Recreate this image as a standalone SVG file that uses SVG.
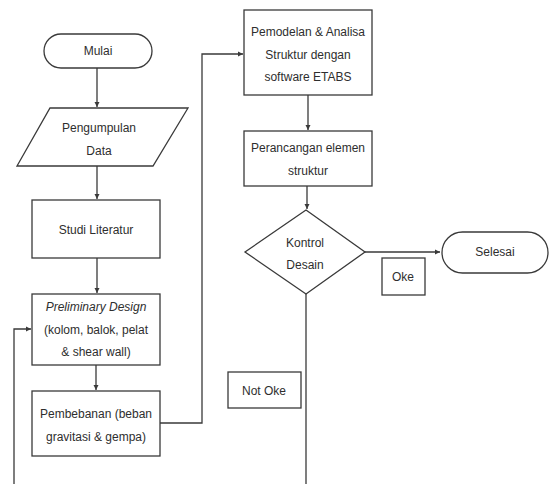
<svg xmlns="http://www.w3.org/2000/svg" width="550" height="484" viewBox="0 0 550 484">
<style>
.s{fill:#fff;stroke:#3a3a3a;stroke-width:1.3}
.c{fill:none;stroke:#3a3a3a;stroke-width:1.3}
text{font-family:"Liberation Sans",Arial,sans-serif;font-size:12px;fill:#2e2e2e;text-anchor:middle}
</style>
<defs>
<marker id="a" markerWidth="6" markerHeight="6" refX="5" refY="3" orient="auto" markerUnits="userSpaceOnUse">
<path d="M0,0.5 L5,3 L0,5.5 Z" fill="#3a3a3a"/>
</marker>
</defs>
<rect width="550" height="484" fill="#fff"/>
<g id="connectors">
<line class="c" x1="97" y1="68" x2="97" y2="107" marker-end="url(#a)"/>
<line class="c" x1="97" y1="166" x2="97" y2="199" marker-end="url(#a)"/>
<line class="c" x1="97" y1="258" x2="97" y2="293" marker-end="url(#a)"/>
<line class="c" x1="96" y1="352" x2="96" y2="390" marker-end="url(#a)"/>
<polyline class="c" points="160,423 202,423 202,54 243,54" marker-end="url(#a)"/>
<line class="c" x1="308" y1="95" x2="308" y2="130" marker-end="url(#a)"/>
<line class="c" x1="307" y1="176" x2="307" y2="209" marker-end="url(#a)"/>
<line class="c" x1="365" y1="252" x2="440" y2="252" marker-end="url(#a)"/>
<line class="c" x1="306" y1="294" x2="306" y2="484"/>
<polyline class="c" points="14,484 14,329 31,329" marker-end="url(#a)"/>
</g>
<g id="mulai">
<rect class="s" x="44" y="34" width="108" height="34" rx="17"/>
<text x="98" y="55">Mulai</text>
</g>
<g id="pengumpulan">
<polygon class="s" points="50,108 188,108 153,166 17,166"/>
<text x="99" y="132">Pengumpulan</text>
<text x="99" y="155">Data</text>
</g>
<g id="studi">
<rect class="s" x="32" y="200" width="128" height="58"/>
<text x="96" y="234">Studi Literatur</text>
</g>
<g id="preliminary">
<rect class="s" x="32" y="294" width="128" height="71"/>
<text x="96" y="311" font-style="italic">Preliminary Design</text>
<text x="96" y="334">(kolom, balok, pelat</text>
<text x="96" y="356">&amp; shear wall)</text>
</g>
<g id="pembebanan">
<rect class="s" x="32" y="391" width="128" height="65"/>
<text x="96" y="418">Pembebanan (beban</text>
<text x="96" y="441">gravitasi &amp; gempa)</text>
</g>
<g id="etabs">
<rect class="s" x="244" y="10" width="128" height="85"/>
<text x="308" y="36">Pemodelan &amp; Analisa</text>
<text x="308" y="59">Struktur dengan</text>
<text x="308" y="81">software ETABS</text>
</g>
<g id="perancangan">
<rect class="s" x="244" y="131" width="128" height="55"/>
<text x="308" y="152">Perancangan elemen</text>
<text x="308" y="175">struktur</text>
</g>
<g id="kontrol">
<polygon class="s" points="306,210 365,252 306,294 245,252"/>
<text x="305" y="247">Kontrol</text>
<text x="305" y="269">Desain</text>
</g>
<g id="selesai">
<rect class="s" x="442" y="232" width="106" height="41" rx="20.5"/>
<text x="495" y="256">Selesai</text>
</g>
<g id="oke">
<rect class="s" x="382" y="258" width="43" height="37"/>
<text x="403" y="281">Oke</text>
</g>
<g id="notoke">
<rect class="s" x="228" y="372" width="73" height="36"/>
<text x="264" y="395">Not Oke</text>
</g>
</svg>
